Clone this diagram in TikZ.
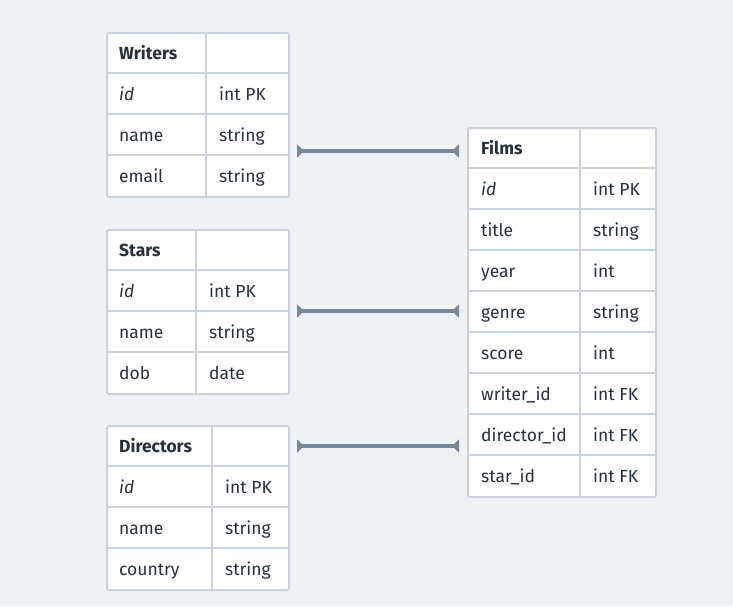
\documentclass[tikz,border=0pt]{standalone}
\usepackage{fontspec}
\setmainfont{Fira Sans}
\usetikzlibrary{arrows.meta}
\definecolor{bg}{HTML}{EFF2F5}
\definecolor{bd}{HTML}{CAD3DD}
\definecolor{tx}{HTML}{27313C}
\definecolor{ln}{HTML}{788896}
\begin{document}
\begin{tikzpicture}[x=1pt,y=-1pt,
  tbl/.style={draw=bd, line width=2pt, fill=white, rounded corners=2pt, anchor=north west, inner sep=0pt},
  grid/.style={draw=bd, line width=2pt},
  lbl/.style={anchor=base west, inner sep=0pt, text=tx, font=\fontsize{17.5}{20}\selectfont},
  conn/.style={draw=ln, line width=4.5pt, {Triangle[reversed,width=13pt,length=7pt]}-{Triangle[reversed,width=13pt,length=7pt]}}]
\useasboundingbox[fill=bg] (0,0) rectangle (733,606);

% Writers
\node[tbl, minimum width=182pt, minimum height=164pt] (writers) at (106,32) {};
\foreach \i in {1,2,3} \draw[grid] (106,32+41*\i) -- (288,32+41*\i);
\draw[grid] (206,32) -- (206,196);
\foreach \a/\b [count=\i from 0] in {{\textbf{Writers}}/{}, {\textit{id}}/int PK, name/string, email/string} {
  \node[lbl] (writers-\i a) at (119,59+41*\i) {\a};
  \node[lbl] (writers-\i b) at (219,59+41*\i) {\b};
}

% Stars
\node[tbl, minimum width=182pt, minimum height=164pt] (stars) at (106,229) {};
\foreach \i in {1,2,3} \draw[grid] (106,229+41*\i) -- (288,229+41*\i);
\draw[grid] (196,229) -- (196,393);
\foreach \a/\b [count=\i from 0] in {{\textbf{Stars}}/{}, {\textit{id}}/int PK, name/string, dob/date} {
  \node[lbl] (stars-\i a) at (119,256+41*\i) {\a};
  \node[lbl] (stars-\i b) at (209,256+41*\i) {\b};
}

% Directors
\node[tbl, minimum width=182pt, minimum height=164pt] (directors) at (106,425) {};
\foreach \i in {1,2,3} \draw[grid] (106,425+41*\i) -- (288,425+41*\i);
\draw[grid] (212,425) -- (212,589);
\foreach \a/\b [count=\i from 0] in {{\textbf{Directors}}/{}, {\textit{id}}/int PK, name/string, country/string} {
  \node[lbl] (directors-\i a) at (119,452+41*\i) {\a};
  \node[lbl] (directors-\i b) at (225,452+41*\i) {\b};
}

% Films
\node[tbl, minimum width=188pt, minimum height=369pt] (films) at (467,127) {};
\foreach \i in {1,...,8} \draw[grid] (467,127+41*\i) -- (655,127+41*\i);
\draw[grid] (580,127) -- (580,496);
\foreach \a/\b [count=\i from 0] in {{\textbf{Films}}/{}, {\textit{id}}/int PK, title/string, year/int, genre/string, score/int, writer\_id/int FK, director\_id/int FK, star\_id/int FK} {
  \node[lbl] (films-\i a) at (481,154+41*\i) {\a};
  \node[lbl] (films-\i b) at (593,154+41*\i) {\b};
}

% connectors
\coordinate (w1) at (297,151);
\coordinate (f1) at (459,151);
\coordinate (s1) at (297,311);
\coordinate (f2) at (459,311);
\coordinate (d1) at (297,446);
\coordinate (f3) at (459,446);
\draw[conn] (w1) -- (f1);
\draw[conn] (s1) -- (f2);
\draw[conn] (d1) -- (f3);
\end{tikzpicture}
\end{document}
